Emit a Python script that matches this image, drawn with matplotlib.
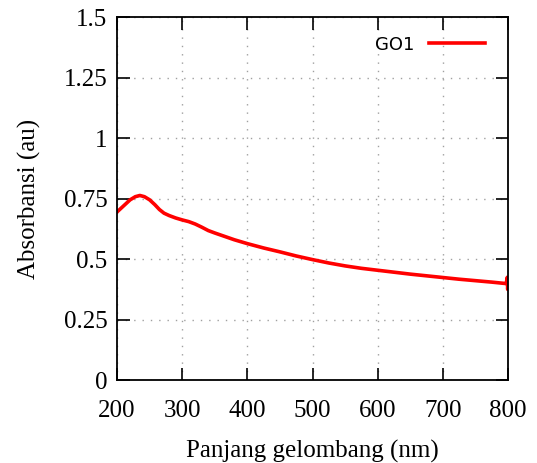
import numpy as np
import matplotlib
matplotlib.use('Agg')
import matplotlib.pyplot as plt

# absorbance spectrum
wavelength = [200, 210, 220, 228, 235, 242, 250, 258, 265, 272, 280, 290, 300, 310,
              320, 330, 340, 350, 365, 380, 400, 425, 450, 475, 500, 525, 550,
              575, 600, 625, 650, 675, 700, 725, 750, 775, 797, 798, 799, 799.5, 800]
absorb = [0.695, 0.72, 0.745, 0.758, 0.763, 0.758, 0.745, 0.725, 0.705, 0.69, 0.68,
          0.67, 0.662, 0.655, 0.645, 0.632, 0.618, 0.608, 0.594, 0.58, 0.564, 0.546,
          0.530, 0.513, 0.498, 0.484, 0.472, 0.462, 0.454, 0.446, 0.438, 0.431, 0.424,
          0.417, 0.411, 0.405, 0.399, 0.41, 0.425, 0.375, 0.395]

xticks = [200, 300, 400, 500, 600, 700, 800]
yticks = [0, 0.25, 0.5, 0.75, 1, 1.25, 1.5]
yticklabels = ['0', '0.25', '0.5', '0.75', '1', '1.25', '1.5']

fig = plt.figure(figsize = (5.37, 4.63), dpi = 100)
ax = fig.add_axes([0.218, 0.179, 0.728, 0.784])

ax.plot(wavelength, absorb, color = '#ff0000', linewidth = 2.6, label = 'GO1')

ax.set_xlim(200, 800)
ax.set_ylim(0, 1.5)
ax.set_xticks(xticks)
ax.set_yticks(yticks)
ax.set_yticklabels(yticklabels)

serif = 'Liberation Serif'
for lab in ax.get_xticklabels() + ax.get_yticklabels():
    lab.set_fontfamily(serif)
    lab.set_fontsize(18)

ax.tick_params(direction = 'in', length = 9, width = 1.2, top = True, right = True, pad = 7)
ax.tick_params(axis = 'x', pad = 14)
ax.grid(True, color = '#a0a0a0', linestyle = (0, (1, 5)), linewidth = 1.0)
for sp in ax.spines.values():
    sp.set_linewidth(1.3)

ax.set_xlabel('Panjang gelombang (nm)', fontfamily = serif, fontsize = 18, labelpad = 13)
ax.set_ylabel('Absorbansi (au)', fontfamily = serif, fontsize = 18, labelpad = 16)

ax.legend(loc = 'upper right', bbox_to_anchor = (1.005, 1.019), frameon = False, markerfirst = False,
          handlelength = 3.1, handletextpad = 0.8, borderaxespad = 1.0,
          prop = {'family': 'DejaVu Sans', 'size': 13})

plt.savefig('out.png', dpi = 100)
